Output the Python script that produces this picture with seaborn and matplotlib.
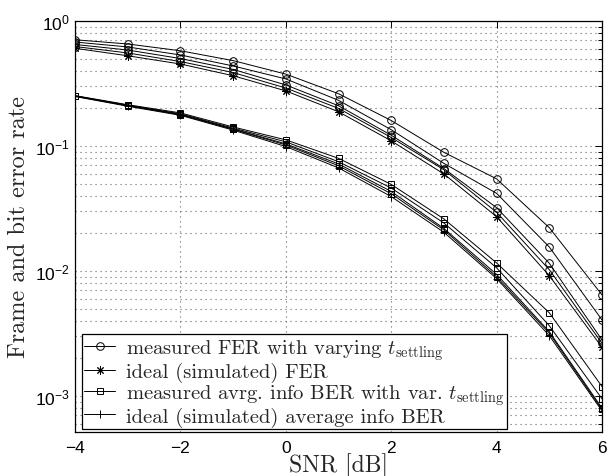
import matplotlib
matplotlib.use("Agg")
import matplotlib.pyplot as plt
import seaborn as sns
import pandas as pd
from matplotlib.ticker import LogLocator, NullFormatter, FixedLocator
from matplotlib.lines import Line2D

# ---- data ----
snr = [-4, -3, -2, -1, 0, 1, 2, 3, 4, 5, 6]

fer_meas_a = [0.708, 0.655, 0.578, 0.482, 0.376, 0.262, 0.160, 0.089, 0.0546, 0.0222, 0.00644]
fer_meas_b = [0.679, 0.620, 0.535, 0.437, 0.344, 0.232, 0.135, 0.0726, 0.0418, 0.01556, 0.00406]
fer_meas_c = [0.649, 0.586, 0.501, 0.410, 0.308, 0.210, 0.122, 0.0660, 0.0321, 0.01153, 0.00281]
fer_meas_d = [0.625, 0.555, 0.474, 0.387, 0.291, 0.200, 0.117, 0.0645, 0.0295, 0.01024, 0.00264]
fer_ideal = [0.605, 0.527, 0.453, 0.365, 0.276, 0.188, 0.110, 0.0597, 0.0272, 0.00917, 0.00245]

ber_meas_a = [0.253, 0.214, 0.184, 0.142, 0.112, 0.0797, 0.0493, 0.0261, 0.0116, 0.00463, 0.00119]
ber_meas_b = [0.252, 0.212, 0.181, 0.139, 0.108, 0.0749, 0.0461, 0.0242, 0.0106, 0.00365, 0.00095]
ber_meas_c = [0.251, 0.211, 0.179, 0.137, 0.104, 0.0719, 0.0433, 0.0219, 0.0094, 0.00327, 0.00080]
ber_meas_d = [0.250, 0.210, 0.178, 0.136, 0.102, 0.0695, 0.0415, 0.0213, 0.0090, 0.00318, 0.00078]
ber_ideal = [0.249, 0.208, 0.176, 0.134, 0.099, 0.0668, 0.0394, 0.0204, 0.0087, 0.00304, 0.00076]

legend_labels = [
    r"measured FER with varying $t_{\mathrm{settling}}$",
    r"ideal (simulated) FER",
    r"measured avrg. info BER with var. $t_{\mathrm{settling}}$",
    r"ideal (simulated) average info BER",
]

# ---- style ----
sns.set_theme(style="white")
plt.rcParams.update({
    "font.family": ["Liberation Sans", "DejaVu Sans"],
    "mathtext.fontset": "cm",
    "axes.unicode_minus": True,
})

fig = plt.figure(figsize=(6.15, 4.77), dpi=100)
ax = fig.add_axes([75 / 615, 1 - 433 / 477, (602 - 75) / 615, (433 - 22) / 477])

asterisk = (8, 2, 0)
groups = [
    ([fer_meas_a, fer_meas_b, fer_meas_c, fer_meas_d], "o", 5.5, legend_labels[0]),
    ([fer_ideal], asterisk, 6.0, legend_labels[1]),
    ([ber_meas_a, ber_meas_b, ber_meas_c, ber_meas_d], "s", 4.0, legend_labels[2]),
    ([ber_ideal], "+", 6.0, legend_labels[3]),
]

handles = []
for series_list, mk, ms, lab in groups:
    for vals in series_list:
        df = pd.DataFrame({"snr": snr, "err": vals})
        sns.lineplot(data=df, x="snr", y="err", ax=ax, color="black",
                     linewidth=0.7, marker=mk, markersize=ms,
                     markerfacecolor="none", markeredgecolor="black",
                     markeredgewidth=0.7, errorbar=None, legend=False)
    handles.append(Line2D([], [], color="black", linewidth=0.7, marker=mk,
                          markersize=ms, markerfacecolor="none",
                          markeredgecolor="black", markeredgewidth=0.7,
                          label=lab))

ax.set_yscale("log")
ax.set_xlim(-4, 6)
ax.set_ylim(10 ** -3.288, 1.0)
ax.xaxis.set_major_locator(FixedLocator([-4, -2, 0, 2, 4, 6]))
ax.yaxis.set_major_locator(LogLocator(base=10, numticks=10))
ax.yaxis.set_minor_locator(LogLocator(base=10, subs=range(2, 10), numticks=20))
ax.yaxis.set_minor_formatter(NullFormatter())

grid_kw = dict(linestyle=(0, (1, 3.5)), linewidth=0.8, color="0.4")
ax.grid(True, which="major", axis="both", **grid_kw)
ax.grid(True, which="minor", axis="y", **grid_kw)
ax.set_axisbelow(True)

ax.tick_params(which="both", direction="in", top=True, right=True, colors="black",
               labelsize=12.5, width=0.7)
ax.tick_params(which="major", length=5)
ax.tick_params(which="minor", length=3)
ax.tick_params(axis="x", which="major", pad=6)
for sp in ax.spines.values():
    sp.set_color("black")
    sp.set_linewidth(0.9)

ax.set_xlabel("SNR [dB]", fontfamily="cmr10", fontsize=17, labelpad=-2.5)
ax.set_ylabel("Frame and bit error rate", fontfamily="cmr10", fontsize=17.5, labelpad=4)

leg = ax.legend(handles=handles, loc="lower left", bbox_to_anchor=(0.013, 0.007),
                prop={"family": "cmr10", "size": 14.8}, frameon=True, fancybox=False,
                edgecolor="black", framealpha=1, borderpad=0.12, labelspacing=0.0,
                handlelength=1.5, handletextpad=0.55, borderaxespad=0, numpoints=1)
leg.get_frame().set_linewidth(0.9)

fig.savefig("out.png", dpi=100)
